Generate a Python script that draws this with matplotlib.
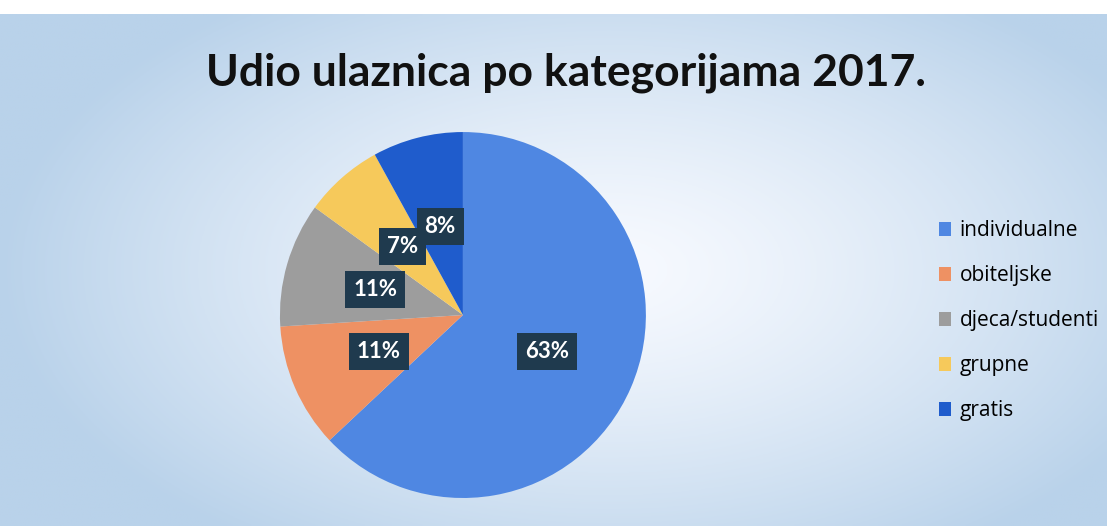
import numpy as np
import matplotlib.pyplot as plt
from matplotlib.colors import to_rgb

# data
categories = ['individualne', 'obiteljske', 'djeca/studenti', 'grupne', 'gratis']
shares = [63, 11, 11, 7, 8]
colors = ['#4f87e2', '#ee9163', '#9d9d9d', '#f6c95b', '#1f5ccc']

fig = plt.figure(figsize=(11.14, 5.26), dpi=100, facecolor='white')

# light blue slide background, brighter in the middle
bg = fig.add_axes([0, 0, 0.993, 0.973])
yy, xx = np.mgrid[0:1:200j, 0:1:400j]
d = np.sqrt(((xx - 0.55) / 0.8) ** 2 + ((yy - 0.5) / 0.95) ** 2)
t = np.clip(d * 1.45, 0, 1)[..., None] ** 1.3
edge = np.array(to_rgb('#b9d2ea'))
center = np.array([0.97, 0.98, 1.0])
bg.imshow(center * (1 - t) + edge * t, aspect='auto', extent=[0, 1, 0, 1])
bg.axis('off')

ax = fig.add_axes([0.2513, 0.0532, 0.3285, 0.6958])
wedges, texts, autotexts = ax.pie(
    shares, colors=colors, startangle=90, counterclock=False,
    autopct='%1.0f%%', pctdistance=0.5,
    wedgeprops=dict(linewidth=0),
    textprops=dict(color='white', fontsize=16, fontweight='bold', family='Lato'))
for at in autotexts:
    at.set_bbox(dict(boxstyle='square,pad=0.35', facecolor='#1f3a4e', edgecolor='none'))
ax.set_xlim(-1, 1)
ax.set_ylim(-1, 1)
ax.set_aspect('equal')

fig.text(0.508, 0.862, 'Udio ulaznica po kategorijama 2017.', ha='center', va='center',
         fontsize=32, fontweight='bold', family='Lato', color='#111111')

fig.legend(wedges, categories, loc='center left', bbox_to_anchor=(0.826, 0.39),
           frameon=False, labelspacing=1.15, handlelength=0.6,
           handleheight=0.6, handletextpad=0.4, prop=dict(family='Open Sans', size=15))

fig.savefig('out.png', dpi=100)
